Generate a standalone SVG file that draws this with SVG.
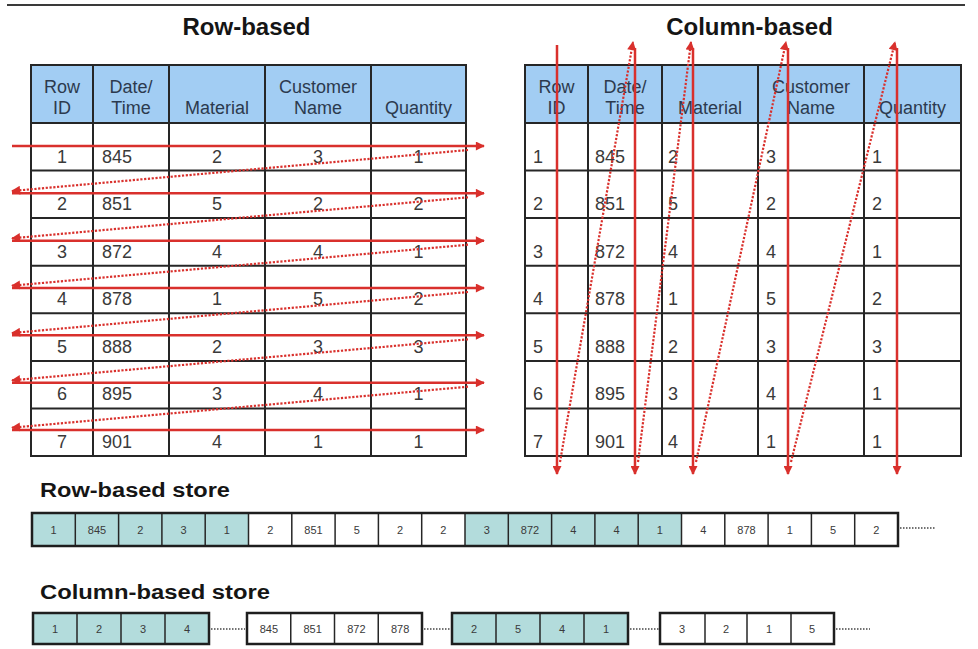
<svg xmlns="http://www.w3.org/2000/svg" width="978" height="649" viewBox="0 0 978 649">
<style>
.title{font-family:"Liberation Sans",Arial,sans-serif;font-weight:bold;font-size:24px;fill:#151515;text-anchor:middle}
.slabel{font-family:"Liberation Sans",Arial,sans-serif;font-weight:bold;font-size:20px;fill:#151515}
.hd{font-family:"Liberation Sans",Arial,sans-serif;font-size:18px;fill:#2c3a4e;text-anchor:middle}
.c{font-family:"Liberation Sans",Arial,sans-serif;font-size:18px;fill:#3a3a3a;text-anchor:middle}
.l{font-family:"Liberation Sans",Arial,sans-serif;font-size:18px;fill:#3a3a3a}
.s{font-family:"Liberation Sans",Arial,sans-serif;font-size:11px;fill:#3a3a3a;text-anchor:middle}
.hdr{fill:#a2cdf3}
.grid{stroke:#262626;stroke-width:2;fill:none}
.teal{fill:#b3dcdc}
.white{fill:#ffffff}
.cellb{stroke:#262626;stroke-width:1.5;fill:none}
.box{stroke:#1e1e1e;stroke-width:2.5;fill:none}
.solid{stroke:#d9302c;stroke-width:2.5;fill:none}
.dot{stroke:#d9302c;stroke-width:2.2;stroke-dasharray:2.2 1.6;fill:none}
.gdot{stroke:#444;stroke-width:1.5;stroke-dasharray:1.5 1.5;fill:none}
</style>
<defs>
<marker id="ah" viewBox="0 0 10 10" refX="9" refY="5" markerWidth="11" markerHeight="9" markerUnits="userSpaceOnUse" orient="auto">
<path d="M0,0 L10,5 L0,10 z" fill="#d9302c"/>
</marker>
</defs>
<rect x="0" y="0" width="978" height="649" fill="#ffffff"/>
<line x1="7" y1="5" x2="965" y2="5" stroke="#3a3a3a" stroke-width="2"/>

<g id="title-row"><text class="title" x="246.5" y="35">Row-based</text></g>
<g id="title-col"><text class="title" x="749.5" y="35">Column-based</text></g>

<g id="table-row">
<rect class="hdr" x="31" y="65" width="435" height="58"/>
<rect class="grid" x="31" y="65" width="435" height="391"/>
<g class="grid">
<line x1="93" y1="65" x2="93" y2="456"/><line x1="169" y1="65" x2="169" y2="456"/>
<line x1="265" y1="65" x2="265" y2="456"/><line x1="371" y1="65" x2="371" y2="456"/>
<line x1="31" y1="123" x2="466" y2="123"/><line x1="31" y1="170.6" x2="466" y2="170.6"/>
<line x1="31" y1="218.1" x2="466" y2="218.1"/><line x1="31" y1="265.7" x2="466" y2="265.7"/>
<line x1="31" y1="313.3" x2="466" y2="313.3"/><line x1="31" y1="360.9" x2="466" y2="360.9"/>
<line x1="31" y1="408.4" x2="466" y2="408.4"/>
</g>
<text class="hd" x="62" y="93">Row</text><text class="hd" x="62" y="114">ID</text>
<text class="hd" x="131" y="93">Date/</text><text class="hd" x="131" y="114">Time</text>
<text class="hd" x="217" y="114">Material</text>
<text class="hd" x="318" y="93">Customer</text><text class="hd" x="318" y="114">Name</text>
<text class="hd" x="418.5" y="114">Quantity</text>
<text class="c" x="62" y="163">1</text><text class="l" x="102" y="163">845</text><text class="c" x="217" y="163">2</text><text class="c" x="318" y="163">3</text><text class="c" x="418.5" y="163">1</text>
<text class="c" x="62" y="210">2</text><text class="l" x="102" y="210">851</text><text class="c" x="217" y="210">5</text><text class="c" x="318" y="210">2</text><text class="c" x="418.5" y="210">2</text>
<text class="c" x="62" y="257.5">3</text><text class="l" x="102" y="257.5">872</text><text class="c" x="217" y="257.5">4</text><text class="c" x="318" y="257.5">4</text><text class="c" x="418.5" y="257.5">1</text>
<text class="c" x="62" y="305">4</text><text class="l" x="102" y="305">878</text><text class="c" x="217" y="305">1</text><text class="c" x="318" y="305">5</text><text class="c" x="418.5" y="305">2</text>
<text class="c" x="62" y="352.5">5</text><text class="l" x="102" y="352.5">888</text><text class="c" x="217" y="352.5">2</text><text class="c" x="318" y="352.5">3</text><text class="c" x="418.5" y="352.5">3</text>
<text class="c" x="62" y="400">6</text><text class="l" x="102" y="400">895</text><text class="c" x="217" y="400">3</text><text class="c" x="318" y="400">4</text><text class="c" x="418.5" y="400">1</text>
<text class="c" x="62" y="448">7</text><text class="l" x="102" y="448">901</text><text class="c" x="217" y="448">4</text><text class="c" x="318" y="448">1</text><text class="c" x="418.5" y="448">1</text>
</g>

<g id="table-col">
<rect class="hdr" x="525" y="65" width="436" height="58"/>
<rect class="grid" x="525" y="65" width="436" height="391"/>
<g class="grid">
<line x1="588" y1="65" x2="588" y2="456"/><line x1="662" y1="65" x2="662" y2="456"/>
<line x1="758" y1="65" x2="758" y2="456"/><line x1="864" y1="65" x2="864" y2="456"/>
<line x1="525" y1="123" x2="961" y2="123"/><line x1="525" y1="170.6" x2="961" y2="170.6"/>
<line x1="525" y1="218.1" x2="961" y2="218.1"/><line x1="525" y1="265.7" x2="961" y2="265.7"/>
<line x1="525" y1="313.3" x2="961" y2="313.3"/><line x1="525" y1="360.9" x2="961" y2="360.9"/>
<line x1="525" y1="408.4" x2="961" y2="408.4"/>
</g>
<text class="hd" x="556.5" y="93">Row</text><text class="hd" x="556.5" y="114">ID</text>
<text class="hd" x="625" y="93">Date/</text><text class="hd" x="625" y="114">Time</text>
<text class="hd" x="710" y="114">Material</text>
<text class="hd" x="811" y="93">Customer</text><text class="hd" x="811" y="114">Name</text>
<text class="hd" x="912.5" y="114">Quantity</text>
<text class="l" x="533" y="163">1</text><text class="l" x="595" y="163">845</text><text class="l" x="668" y="163">2</text><text class="l" x="766" y="163">3</text><text class="l" x="872" y="163">1</text>
<text class="l" x="533" y="210">2</text><text class="l" x="595" y="210">851</text><text class="l" x="668" y="210">5</text><text class="l" x="766" y="210">2</text><text class="l" x="872" y="210">2</text>
<text class="l" x="533" y="257.5">3</text><text class="l" x="595" y="257.5">872</text><text class="l" x="668" y="257.5">4</text><text class="l" x="766" y="257.5">4</text><text class="l" x="872" y="257.5">1</text>
<text class="l" x="533" y="305">4</text><text class="l" x="595" y="305">878</text><text class="l" x="668" y="305">1</text><text class="l" x="766" y="305">5</text><text class="l" x="872" y="305">2</text>
<text class="l" x="533" y="352.5">5</text><text class="l" x="595" y="352.5">888</text><text class="l" x="668" y="352.5">2</text><text class="l" x="766" y="352.5">3</text><text class="l" x="872" y="352.5">3</text>
<text class="l" x="533" y="400">6</text><text class="l" x="595" y="400">895</text><text class="l" x="668" y="400">3</text><text class="l" x="766" y="400">4</text><text class="l" x="872" y="400">1</text>
<text class="l" x="533" y="448">7</text><text class="l" x="595" y="448">901</text><text class="l" x="668" y="448">4</text><text class="l" x="766" y="448">1</text><text class="l" x="872" y="448">1</text>
</g>

<g id="connectors">
<g id="row-scan">
<line class="solid" x1="12" y1="146" x2="484" y2="146" marker-end="url(#ah)"/>
<line class="solid" x1="12" y1="193.3" x2="484" y2="193.3" marker-end="url(#ah)"/>
<line class="solid" x1="12" y1="240.7" x2="484" y2="240.7" marker-end="url(#ah)"/>
<line class="solid" x1="12" y1="288" x2="484" y2="288" marker-end="url(#ah)"/>
<line class="solid" x1="12" y1="335.3" x2="484" y2="335.3" marker-end="url(#ah)"/>
<line class="solid" x1="12" y1="382.7" x2="484" y2="382.7" marker-end="url(#ah)"/>
<line class="solid" x1="12" y1="430" x2="484" y2="430" marker-end="url(#ah)"/>
<line class="dot" x1="468" y1="150" x2="12" y2="191" marker-end="url(#ah)"/>
<line class="dot" x1="468" y1="197.3" x2="12" y2="238.3" marker-end="url(#ah)"/>
<line class="dot" x1="468" y1="244.7" x2="12" y2="285.7" marker-end="url(#ah)"/>
<line class="dot" x1="468" y1="292" x2="12" y2="333" marker-end="url(#ah)"/>
<line class="dot" x1="468" y1="339.3" x2="12" y2="380.3" marker-end="url(#ah)"/>
<line class="dot" x1="468" y1="386.7" x2="12" y2="427.7" marker-end="url(#ah)"/>
</g>
<g id="col-scan">
<line class="solid" x1="557" y1="45" x2="557" y2="474" marker-end="url(#ah)"/>
<line class="solid" x1="635" y1="48" x2="635" y2="474" marker-end="url(#ah)"/>
<line class="solid" x1="693" y1="48" x2="693" y2="474" marker-end="url(#ah)"/>
<line class="solid" x1="788" y1="48" x2="788" y2="474" marker-end="url(#ah)"/>
<line class="solid" x1="897" y1="48" x2="897" y2="474" marker-end="url(#ah)"/>
<line class="dot" x1="560" y1="462" x2="633" y2="42" marker-end="url(#ah)"/>
<line class="dot" x1="638" y1="462" x2="691" y2="42" marker-end="url(#ah)"/>
<line class="dot" x1="696" y1="462" x2="786" y2="42" marker-end="url(#ah)"/>
<line class="dot" x1="791" y1="462" x2="895" y2="42" marker-end="url(#ah)"/>
</g>
</g>

<g id="store-row">
<text class="slabel" x="40" y="497" textLength="190" lengthAdjust="spacingAndGlyphs">Row-based store</text>
<rect class="teal" x="32" y="513" width="216.5" height="33"/>
<rect class="white" x="248.5" y="513" width="216.5" height="33"/>
<rect class="teal" x="465" y="513" width="216.5" height="33"/>
<rect class="white" x="681.5" y="513" width="216.5" height="33"/>
<g class="cellb">
<line x1="75.3" y1="513" x2="75.3" y2="546"/><line x1="118.6" y1="513" x2="118.6" y2="546"/>
<line x1="161.9" y1="513" x2="161.9" y2="546"/><line x1="205.2" y1="513" x2="205.2" y2="546"/>
<line x1="248.5" y1="513" x2="248.5" y2="546"/><line x1="291.8" y1="513" x2="291.8" y2="546"/>
<line x1="335.1" y1="513" x2="335.1" y2="546"/><line x1="378.4" y1="513" x2="378.4" y2="546"/>
<line x1="421.7" y1="513" x2="421.7" y2="546"/><line x1="465" y1="513" x2="465" y2="546"/>
<line x1="508.3" y1="513" x2="508.3" y2="546"/><line x1="551.6" y1="513" x2="551.6" y2="546"/>
<line x1="594.9" y1="513" x2="594.9" y2="546"/><line x1="638.2" y1="513" x2="638.2" y2="546"/>
<line x1="681.5" y1="513" x2="681.5" y2="546"/><line x1="724.8" y1="513" x2="724.8" y2="546"/>
<line x1="768.1" y1="513" x2="768.1" y2="546"/><line x1="811.4" y1="513" x2="811.4" y2="546"/>
<line x1="854.7" y1="513" x2="854.7" y2="546"/>
</g>
<rect class="box" x="32" y="513" width="866" height="33"/>
<text class="s" x="53.6" y="533.5">1</text><text class="s" x="97" y="533.5">845</text><text class="s" x="140.3" y="533.5">2</text><text class="s" x="183.6" y="533.5">3</text><text class="s" x="226.9" y="533.5">1</text>
<text class="s" x="270.2" y="533.5">2</text><text class="s" x="313.5" y="533.5">851</text><text class="s" x="356.8" y="533.5">5</text><text class="s" x="400.1" y="533.5">2</text><text class="s" x="443.4" y="533.5">2</text>
<text class="s" x="486.7" y="533.5">3</text><text class="s" x="530" y="533.5">872</text><text class="s" x="573.3" y="533.5">4</text><text class="s" x="616.6" y="533.5">4</text><text class="s" x="659.9" y="533.5">1</text>
<text class="s" x="703.2" y="533.5">4</text><text class="s" x="746.5" y="533.5">878</text><text class="s" x="789.8" y="533.5">1</text><text class="s" x="833.1" y="533.5">5</text><text class="s" x="876.4" y="533.5">2</text>
<line class="gdot" x1="900" y1="528" x2="935" y2="528"/>
</g>

<g id="store-col">
<text class="slabel" x="40" y="599" textLength="230" lengthAdjust="spacingAndGlyphs">Column-based store</text>
<g id="col-seg1">
<rect class="teal" x="33" y="613" width="176" height="31"/>
<g class="cellb"><line x1="77" y1="613" x2="77" y2="644"/><line x1="121" y1="613" x2="121" y2="644"/><line x1="165" y1="613" x2="165" y2="644"/></g>
<rect class="box" x="33" y="613" width="176" height="31"/>
<text class="s" x="55" y="633">1</text><text class="s" x="99" y="633">2</text><text class="s" x="143" y="633">3</text><text class="s" x="187" y="633">4</text>
</g>
<g id="col-seg2">
<rect class="white" x="247" y="613" width="175" height="31"/>
<g class="cellb"><line x1="290.75" y1="613" x2="290.75" y2="644"/><line x1="334.5" y1="613" x2="334.5" y2="644"/><line x1="378.25" y1="613" x2="378.25" y2="644"/></g>
<rect class="box" x="247" y="613" width="175" height="31"/>
<text class="s" x="268.9" y="633">845</text><text class="s" x="312.6" y="633">851</text><text class="s" x="356.4" y="633">872</text><text class="s" x="400.1" y="633">878</text>
</g>
<g id="col-seg3">
<rect class="teal" x="452" y="613" width="176" height="31"/>
<g class="cellb"><line x1="496" y1="613" x2="496" y2="644"/><line x1="540" y1="613" x2="540" y2="644"/><line x1="584" y1="613" x2="584" y2="644"/></g>
<rect class="box" x="452" y="613" width="176" height="31"/>
<text class="s" x="474" y="633">2</text><text class="s" x="518" y="633">5</text><text class="s" x="562" y="633">4</text><text class="s" x="606" y="633">1</text>
</g>
<g id="col-seg4">
<rect class="white" x="660" y="613" width="174" height="31"/>
<g class="cellb"><line x1="705" y1="613" x2="705" y2="644"/><line x1="747" y1="613" x2="747" y2="644"/><line x1="791" y1="613" x2="791" y2="644"/></g>
<rect class="box" x="660" y="613" width="174" height="31"/>
<text class="s" x="682" y="633">3</text><text class="s" x="726" y="633">2</text><text class="s" x="769" y="633">1</text><text class="s" x="812" y="633">5</text>
</g>
<line class="gdot" x1="211" y1="629" x2="245" y2="629"/>
<line class="gdot" x1="424" y1="629" x2="451" y2="629"/>
<line class="gdot" x1="630" y1="629" x2="659" y2="629"/>
<line class="gdot" x1="836" y1="629" x2="870" y2="629"/>
</g>
</svg>
